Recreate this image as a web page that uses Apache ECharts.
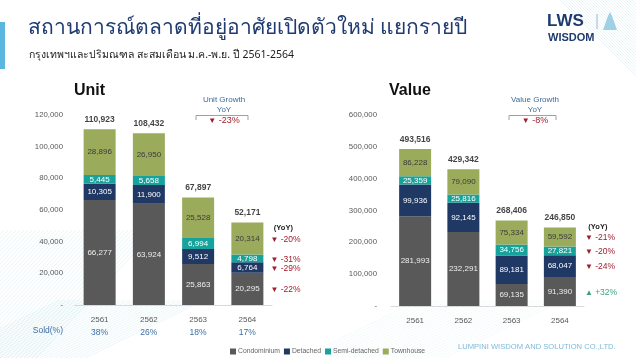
<!DOCTYPE html>
<html><head><meta charset="utf-8">
<script src="https://cdn.jsdelivr.net/npm/echarts@6/dist/echarts.min.js"></script>
<style>html,body{margin:0;padding:0;background:#fff}#c{width:636px;height:358px}</style>
</head><body><div id="c"></div><script>
// ---- data ----
const years = ['2561', '2562', '2563', '2564'];
const seriesNames = ['Condominium', 'Detached', 'Semi-detached', 'Townhouse'];
const unitCondo = [66277, 63924, 25863, 20295];
const unitDetached = [10305, 11900, 9512, 6764];
const unitSemi = [5445, 5658, 6994, 4798];
const unitTown = [28896, 26950, 25528, 20314];
const unitTotals = [110923, 108432, 67897, 52171];
const valueCondo = [281993, 232291, 69135, 91390];
const valueDetached = [99936, 92145, 89181, 68047];
const valueSemi = [25359, 25816, 34756, 27821];
const valueTown = [86228, 79090, 75334, 59592];
const valueTotals = [493516, 429342, 268406, 246850];
const soldPct = ['38%', '26%', '18%', '17%'];
const unitYoY = ['-22%', '-29%', '-31%', '-20%'];    // condo, detached, semi, town
const valueYoY = ['+32%', '-24%', '-20%', '-21%'];
const unitGrowth = '-23%';
const valueGrowth = '-8%';
const unitMax = 120000, unitStep = 20000;
const valueMax = 600000, valueStep = 100000;

// ---- styling ----
const colors = ['#595959', '#1f3864', '#17a39b', '#9bab5c'];
const labelColors = ['#eeeeee', '#ffffff', '#ffffff', '#3a3a3a'];
const fmt = v => v === 0 ? '-' : Number(v).toLocaleString('en-US');
const FONT = 'Liberation Sans, Arial, sans-serif';

const chart = echarts.init(document.getElementById('c'), null, {renderer: 'canvas'});

const unitData = [unitCondo, unitDetached, unitSemi, unitTown];
const valueData = [valueCondo, valueDetached, valueSemi, valueTown];

function barSeries(dataArr, axisIdx, stack) {
  return dataArr.map((d, i) => ({
    name: seriesNames[i], type: 'bar', stack: stack,
    xAxisIndex: axisIdx, yAxisIndex: axisIdx,
    barWidth: 32, data: d,
    itemStyle: {color: colors[i]},
    label: {show: true, position: 'inside', formatter: p => fmt(p.value),
      color: labelColors[i], fontSize: 8, fontFamily: FONT},
    emphasis: {disabled: true}
  }));
}
function totalSeries(tot, axisIdx) {
  return {
    type: 'scatter', xAxisIndex: axisIdx, yAxisIndex: axisIdx,
    symbolSize: 0.1, data: tot, silent: true,
    label: {show: true, position: 'top', distance: 5, formatter: p => fmt(p.value),
      color: '#111', fontSize: 8.5, fontWeight: 'bold', fontFamily: FONT}
  };
}

const catAxis = (grid) => ({
  type: 'category', gridIndex: grid, data: years,
  axisLine: {lineStyle: {color: '#d9d9d9'}}, axisTick: {show: false},
  axisLabel: {color: '#595959', fontSize: 8, margin: 11, fontFamily: FONT}
});
const valAxis = (grid, max, step, margin) => ({
  type: 'value', gridIndex: grid, min: 0, max: max, interval: step,
  splitLine: {show: false}, axisLine: {show: false}, axisTick: {show: false},
  axisLabel: {color: '#595959', fontSize: 7.8, margin: margin, fontFamily: FONT, formatter: fmt}
});

chart.setOption({
  backgroundColor: '#ffffff',
  animation: false,
  textStyle: {fontFamily: FONT},
  legend: {
    data: seriesNames, left: 225, top: 343, itemWidth: 6, itemHeight: 6, itemGap: 4,
    icon: 'rect', textStyle: {color: '#666', fontSize: 6.8, padding: [0, 0, 0, -3]},
    selectedMode: false
  },
  grid: [
    {left: 75, top: 115, width: 197, height: 190},
    {left: 391, top: 115, width: 193, height: 191}
  ],
  xAxis: [
    catAxis(0), catAxis(1),
    {type: 'category', gridIndex: 0, data: soldPct, position: 'bottom', offset: 12,
      axisLine: {show: false}, axisTick: {show: false},
      axisLabel: {color: '#3c6ea6', fontSize: 8.5, margin: 11, fontFamily: FONT}}
  ],
  yAxis: [valAxis(0, unitMax, unitStep, 12), valAxis(1, valueMax, valueStep, 14)],
  series: [
    ...barSeries(unitData, 0, 'u'), totalSeries(unitTotals, 0),
    ...barSeries(valueData, 1, 'v'), totalSeries(valueTotals, 1)
  ]
});

// ---- annotations ----
const g = [];
// decorative background hatching
function hatch(x0, y0, x1, y1, n, dx, color) {
  for (let k = 0; k < n; k++) {
    g.push({type: 'line', silent: true, z: -10,
      shape: {x1: x0 + k * dx, y1: y0, x2: x1 + k * dx, y2: y1},
      style: {stroke: color, lineWidth: 0.6}});
  }
}
hatch(-120, 358, 0, 230, 40, 4, 'rgba(150,205,215,0.35)');
hatch(-60, 358, 60, 300, 30, 5, 'rgba(150,205,215,0.3)');
hatch(560, 0, 700, 140, 25, 3, 'rgba(150,205,215,0.35)');
hatch(300, 358, 420, 300, 25, 6, 'rgba(150,205,215,0.18)');

g.push({type: 'rect', shape: {x: 0, y: 22, width: 5, height: 47}, style: {fill: '#5bb6e0'}});
g.push({type: 'text', left: 28, top: 18, style: {text: 'สถานการณ์ตลาดที่อยู่อาศัยเปิดตัวใหม่ แยกรายปี',
  fill: '#1f3b70', fontSize: 21, fontFamily: 'Noto Sans, DejaVu Sans, sans-serif'}});
g.push({type: 'text', left: 29, top: 50, style: {text: 'กรุงเทพฯและปริมณฑล สะสมเดือน ม.ค.-พ.ย. ปี 2561-2564',
  fill: '#222', fontSize: 10.5, fontFamily: 'Noto Sans, DejaVu Sans, sans-serif'}});
// logo
g.push({type: 'text', left: 547, top: 13, style: {text: 'LWS', fill: '#1f3a6e', fontSize: 17, fontWeight: 'bold', fontFamily: FONT}});
g.push({type: 'text', left: 548, top: 32, style: {text: 'WISDOM', fill: '#1f3a6e', fontSize: 11, fontWeight: 'bold', fontFamily: FONT}});
g.push({type: 'line', shape: {x1: 597, y1: 14, x2: 597, y2: 29}, style: {stroke: '#9fb6c8', lineWidth: 1}});
g.push({type: 'polygon', shape: {points: [[603, 30], [608, 16], [610, 12], [612, 16], [617, 30]]}, style: {fill: '#9fd0e6'}});

// chart titles
g.push({type: 'text', left: 74, top: 83, style: {text: 'Unit', fill: '#111', fontSize: 16, fontWeight: 'bold', fontFamily: FONT}});
g.push({type: 'text', left: 389, top: 83, style: {text: 'Value', fill: '#111', fontSize: 16, fontWeight: 'bold', fontFamily: FONT}});

function growthBox(cx, x1, x2, title, val) {
  g.push({type: 'text', x: cx, y: 100, style: {text: title, fill: '#3d6a99', fontSize: 8, align: 'center', verticalAlign: 'middle', fontFamily: FONT}});
  g.push({type: 'text', x: cx, y: 110, style: {text: 'YoY', fill: '#3d6a99', fontSize: 8, align: 'center', verticalAlign: 'middle', fontFamily: FONT}});
  g.push({type: 'polyline', shape: {points: [[x1, 120], [x1, 115.5], [x2, 115.5], [x2, 120]]}, style: {stroke: '#888', lineWidth: 0.8, fill: null}});
  g.push({type: 'text', x: cx, y: 121, style: {text: '{t|▼} ' + val, rich: {t: {fill: '#a01c2c', fontSize: 8}},
    fill: '#a01c2c', fontSize: 9, align: 'center', verticalAlign: 'middle', fontFamily: FONT}});
}
growthBox(224, 196, 248, 'Unit Growth', unitGrowth);
growthBox(535, 509, 556, 'Value Growth', valueGrowth);

// "Sold(%)" row label
g.push({type: 'text', x: 63, y: 331, style: {text: 'Sold(%)', fill: '#3c6ea6', fontSize: 8.5, align: 'right', verticalAlign: 'middle', fontFamily: FONT}});

// YoY per segment of last bar
function yoyCol(dataArr, yoy, axisIdx, xOff) {
  const last = years.length - 1;
  let cum = 0;
  const px0 = chart.convertToPixel({xAxisIndex: axisIdx, yAxisIndex: axisIdx}, [last, 0]);
  const x = px0[0] + 16 + xOff;
  dataArr.forEach((d, i) => {
    const mid = cum + d[last] / 2; cum += d[last];
    const p = chart.convertToPixel({xAxisIndex: axisIdx, yAxisIndex: axisIdx}, [last, mid]);
    const up = yoy[i].charAt(0) === '+';
    const c = up ? '#3aa37c' : '#a01c2c';
    g.push({type: 'text', x: x, y: p[1] + 1, style: {text: '{t|' + (up ? '▲' : '▼') + '} ' + yoy[i],
      rich: {t: {fill: c, fontSize: 8}}, fill: c, fontSize: 8.5, verticalAlign: 'middle', fontFamily: FONT}});
  });
  return x;
}
const lx = yoyCol(unitData, unitYoY, 0, 7);
const rx = yoyCol(valueData, valueYoY, 1, 9);
g.push({type: 'text', x: lx + 13, y: 228, style: {text: '(YoY)', fill: '#222', fontSize: 7.5, fontWeight: 'bold', align: 'center', verticalAlign: 'middle', fontFamily: FONT}});
g.push({type: 'text', x: rx + 13, y: 227, style: {text: '(YoY)', fill: '#222', fontSize: 7.5, fontWeight: 'bold', align: 'center', verticalAlign: 'middle', fontFamily: FONT}});

// footer
g.push({type: 'text', left: 458, top: 343, style: {text: 'LUMPINI WISDOM AND SOLUTION CO.,LTD.', fill: '#7fb9d8', fontSize: 7.6, fontFamily: FONT}});

chart.setOption({graphic: g});
</script></body></html>
